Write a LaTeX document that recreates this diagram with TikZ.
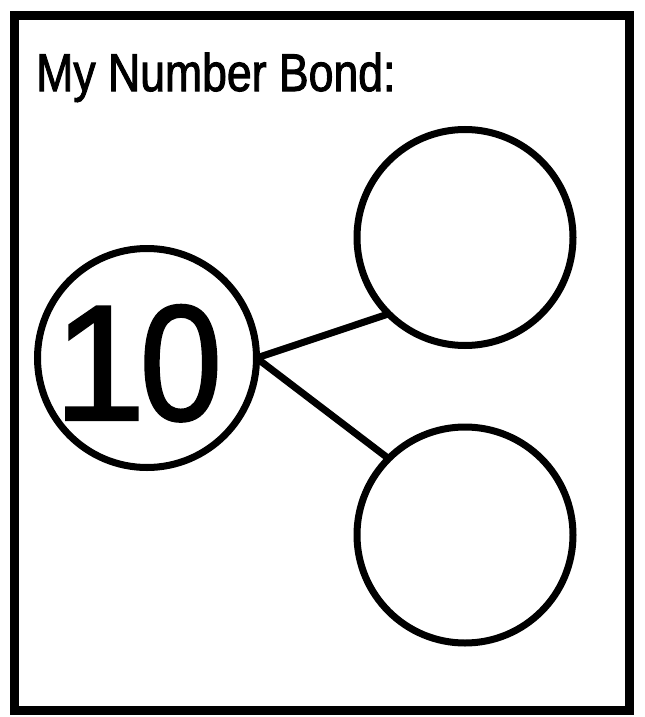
\documentclass[tikz,border=0pt]{standalone}
\usepackage{fontspec}
\setmainfont{Liberation Sans}
\newfontfamily\titlefont[FakeBold=2]{Liberation Sans}
\newfontfamily\digitfont[FakeBold=1.5]{Liberation Sans}
\begin{document}
\begin{tikzpicture}[x=0.75pt,y=-0.75pt,
  bond/.style={circle,draw,line width=5.25pt,inner sep=0pt,outer sep=0pt,minimum size=#1},
  link/.style={line width=5.25pt},
  frame/.style={line width=6.75pt}]
\useasboundingbox (0,0) rectangle (644,717);
\draw[frame] (14.5,16) rectangle (629.5,710.5);
\node[anchor=base west,inner sep=0pt] (title) at (36,91)
  {\titlefont\fontsize{39.8pt}{44pt}\selectfont\scalebox{0.84}[1]{My Number Bond:}};
\node[bond=164.25pt] (whole) at (147,358) {};
\node[bond=162pt] (parta) at (465,237.5) {};
\node[bond=162pt] (partb) at (465,535) {};
\node[anchor=base west,inner sep=0pt] (ten) at (53.5,420)
  {\digitfont\fontsize{123.6pt}{130pt}\selectfont 1\kern-4.35pt\scalebox{0.9}[1]{0}};
\draw[link] (whole.east) -- (parta.225);
\draw[link] (whole.east) -- (partb.135);
\end{tikzpicture}
\end{document}
